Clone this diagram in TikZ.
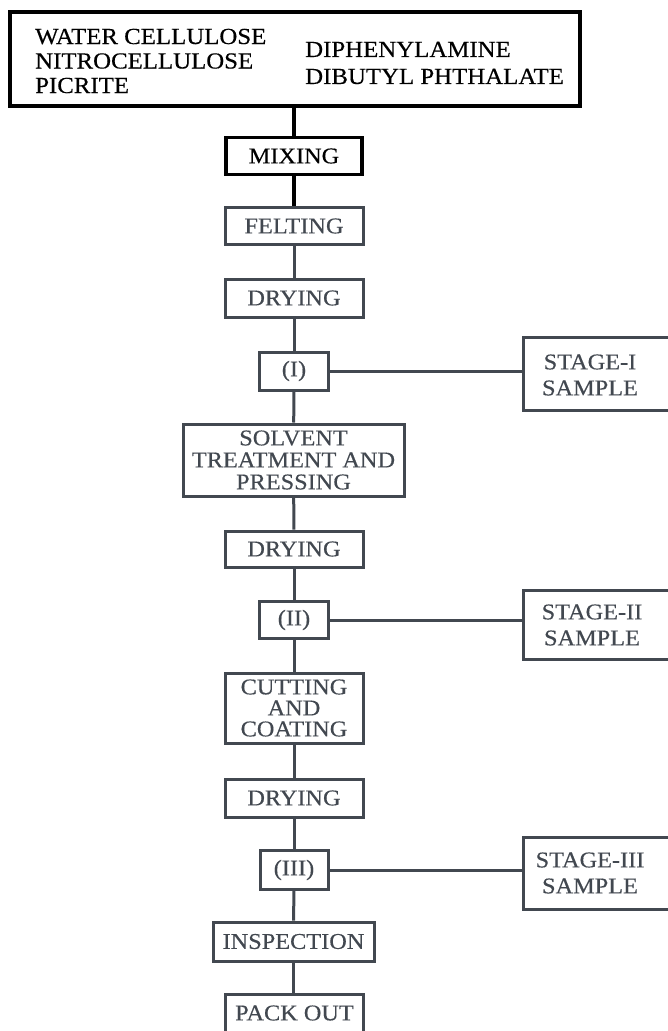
\documentclass[tikz,border=0pt]{standalone}
\usepackage{fontspec}
\setmainfont{Liberation Serif}[FakeStretch=1.08,FakeBold=0.4]
\definecolor{ink}{RGB}{66,72,80}
\begin{document}
\begin{tikzpicture}[x=1pt,y=-1pt,
  box/.style={draw=ink, line width=3pt, rectangle, inner sep=0pt, text=ink, align=center,
    font=\fontsize{22.5}{22}\selectfont},
  bbox/.style={draw=black, line width=3.4pt, rectangle, inner sep=0pt, text=black, align=center,
    font=\fontsize{22.5}{22}\selectfont},
  lbl/.style={inner sep=0pt, text=ink, align=center, font=\fontsize{22.5}{26}\selectfont},
  toplbl/.style={inner sep=0pt, text=black, align=left},
  conn/.style={draw=ink, line width=3pt},
  bconn/.style={draw=black, line width=3.2pt}]
\useasboundingbox (0,0) rectangle (668,1031);
\clip (0,0) rectangle (668,1031);

% top box
\node[bbox, minimum width=570pt, minimum height=94pt] (top) at (295,59) {};
\node[toplbl, anchor=west, font=\fontsize{23}{24.5}\selectfont] (topl) at (35,61) {WATER CELLULOSE\\NITROCELLULOSE\\PICRITE};
\node[toplbl, anchor=west, font=\fontsize{23}{27}\selectfont] (topr) at (305,63) {DIPHENYLAMINE\\DIBUTYL PHTHALATE};

% main chain
\node[bbox, minimum width=136pt, minimum height=37pt] (mix) at (294,156) {MIXING};
\node[box, minimum width=138pt, minimum height=37pt] (felt) at (294,226) {FELTING};
\node[box, minimum width=138pt, minimum height=38pt] (dry1) at (294,298) {DRYING};
\node[box, minimum width=69pt, minimum height=38pt] (s1) at (294,371) {(I)};
\node[box, minimum width=221pt, minimum height=72pt, font=\fontsize{22.5}{22}\selectfont] (solv) at (293.5,460) {SOLVENT\\TREATMENT AND\\PRESSING};
\node[box, minimum width=138pt, minimum height=36pt] (dry2) at (294,549) {DRYING};
\node[box, minimum width=69pt, minimum height=37pt] (s2) at (294,620) {(II)};
\node[box, minimum width=138pt, minimum height=70pt, font=\fontsize{22.5}{21}\selectfont] (cut) at (294,708) {CUTTING\\AND\\COATING};
\node[box, minimum width=138pt, minimum height=38pt] (dry3) at (294,798) {DRYING};
\node[box, minimum width=68pt, minimum height=39pt] (s3) at (294,870) {(III)};
\node[box, minimum width=161pt, minimum height=39pt] (insp) at (293.5,941.5) {INSPECTION};
\node[box, minimum width=138pt, minimum height=46pt] (pack) at (294.5,1017) {};
\node[lbl] (packt) at (294.5,1013) {PACK OUT};

% stage boxes (right side cut by the page edge)
\node[box, anchor=west, minimum width=170pt, minimum height=73pt] (st1) at (522,373.5) {};
\node[lbl] (st1t) at (590,375) {STAGE-I\\SAMPLE};
\node[box, anchor=west, minimum width=170pt, minimum height=69pt] (st2) at (522,624.5) {};
\node[lbl] (st2t) at (592,625) {STAGE-II\\SAMPLE};
\node[box, anchor=west, minimum width=170pt, minimum height=72pt] (st3) at (522,873) {};
\node[lbl] (st3t) at (590,873) {STAGE-III\\SAMPLE};

% connectors
\draw[bconn] (top.south -| mix) -- (mix.north);
\draw[bconn] (mix) -- (felt);
\draw[conn] (felt) -- (dry1);
\draw[conn] (dry1) -- (s1);
\draw[conn] (s1) -- (solv);
\draw[conn] (solv) -- (dry2);
\draw[conn] (dry2) -- (s2);
\draw[conn] (s2) -- (cut);
\draw[conn] (cut) -- (dry3);
\draw[conn] (dry3) -- (s3);
\draw[conn] (s3) -- (insp);
\draw[conn] (insp.south) -- (insp.south |- pack.north);
\draw[conn] (s1.east) -- (st1.west |- s1.east);
\draw[conn] (s2.east) -- (st2.west |- s2.east);
\draw[conn] (s3.east) -- (st3.west |- s3.east);
\end{tikzpicture}
\end{document}
